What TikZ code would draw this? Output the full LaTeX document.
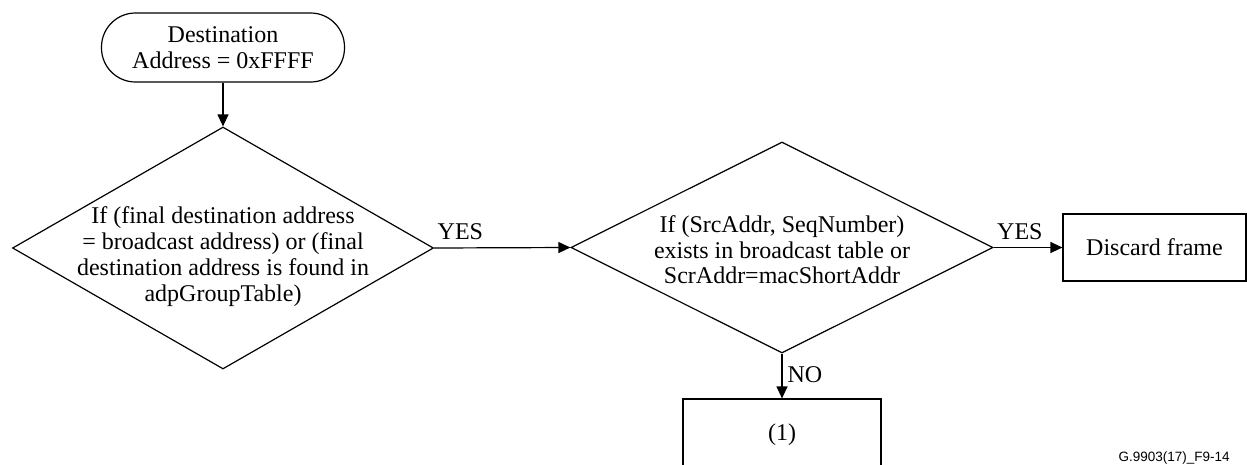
\documentclass[tikz,border=0pt]{standalone}
\usepackage{fontspec}
\setmainfont{Liberation Serif}
\newfontfamily\capfont{Liberation Sans}
\usetikzlibrary{shapes.geometric,arrows.meta}
\begin{document}
\begin{tikzpicture}[x=1pt,y=-1pt,
  line width=1.2pt,
  every node/.style={font=\fontsize{24}{26}\selectfont, inner sep=0pt},
  term/.style={draw, rectangle, rounded corners=34pt, minimum width=243pt, minimum height=69pt, align=center},
  dia/.style={draw, diamond, inner sep=0pt},
  box/.style={draw, rectangle},
  txt/.style={align=center},
  lbl/.style={anchor=base west},
  arr/.style={-{Triangle[length=12pt,width=11pt]}, line width=1.2pt}
]
\useasboundingbox (0,0) rectangle (1247,464);
\clip (0,0) rectangle (1247,464);

\node[term] (start) at (223,47.5) {Destination\\Address = 0xFFFF};
\node[dia, minimum width=421pt, minimum height=242pt] (d1) at (223,248) {};
\node[txt] (t1) at (223,257) {If (final destination address\\= broadcast address) or (final\\destination address is found in\\adpGroupTable)};
\node[dia, minimum width=422pt, minimum height=211pt] (d2) at (782,247.5) {};
\node[txt, font=\fontsize{24}{25.5}\selectfont] (t2) at (782,250) {If (SrcAddr, SeqNumber)\\exists in broadcast table or\\ScrAddr=macShortAddr};
\node[box, minimum width=183pt, minimum height=67pt] (discard) at (1154.5,247.5) {Discard frame};
\node[box, minimum width=198pt, minimum height=72pt] (one) at (782,435) {(1)};
\node[font=\capfont\fontsize{13.5}{15}\selectfont, anchor=base west] (cap) at (1118,461) {G.9903(17)\_F9-14};

\draw[arr] (start.south) -- (d1.north);
\draw[arr] (d1.east) -- (d2.west) node[pos=0, lbl, xshift=3pt, yshift=9pt] (yes1) {YES};
\draw[arr] (d2.east) -- (discard.west) node[pos=0, lbl, xshift=3pt, yshift=8pt] (yes2) {YES};
\draw[arr] (d2.south) -- (one.north) node[pos=0, lbl, xshift=5pt, yshift=-29pt] (no) {NO};
\end{tikzpicture}
\end{document}
